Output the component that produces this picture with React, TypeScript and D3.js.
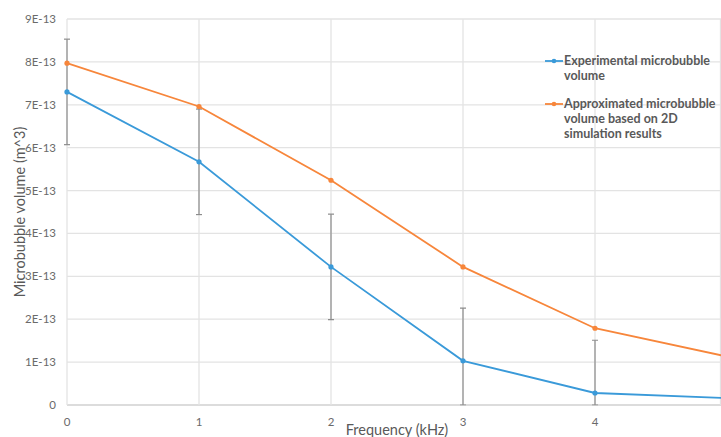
import * as d3 from "d3";

// frequency (kHz)
const frequency = [0, 1, 2, 3, 4, 5];
// volumes in units of 1E-13 m^3
const experimental = [7.3, 5.67, 3.22, 1.03, 0.28, 0.16];
const experimentalErr = [1.23, 1.23, 1.23, 1.23, 1.23, 1.23];
const approximated = [7.97, 6.96, 5.24, 3.22, 1.79, 1.13];
const yTicks = [0, 1, 2, 3, 4, 5, 6, 7, 8, 9];
const xTicks = [0, 1, 2, 3, 4];

const W = 721;
const H = 437;
const margin = { left: 67, top: 19, bottom: 32 };
const BLUE = "#3a9ad9";
const ORANGE = "#f7863b";
const FONT = "Lato, 'Open Sans', sans-serif";

const yLabel = (v: number) => (v === 0 ? "0" : `${v}E-13`);

export default function App() {
  const x = d3.scaleLinear().domain([0, 5]).range([margin.left, margin.left + 5 * 132]);
  const y = d3.scaleLinear().domain([0, 9]).range([H - margin.bottom, margin.top]);

  const line = d3
    .line<number>()
    .x((_, i) => x(frequency[i]))
    .y((d) => y(d));

  const legend = [
    { color: BLUE, lines: ["Experimental microbubble", "volume"], y: 61 },
    { color: ORANGE, lines: ["Approximated microbubble", "volume based on 2D", "simulation results"], y: 104 },
  ];

  return (
    <svg
      width={W}
      height={H}
      style={{ position: "absolute", left: 0, top: 0, background: "#fff" }}
      fontFamily={FONT}
    >
      <defs>
        <clipPath id="plot">
          <rect x={0} y={0} width={W} height={y(0) + 0.5} />
        </clipPath>
      </defs>

      {/* horizontal grid */}
      {yTicks.map((t) => (
        <line key={"h" + t} x1={margin.left} x2={W} y1={y(t)} y2={y(t)} stroke={t === 0 ? "#d0d0d0" : "#e3e3e3"} strokeWidth={1.3} />
      ))}
      {/* vertical grid */}
      {xTicks.map((t) => (
        <line key={"v" + t} x1={x(t)} x2={x(t)} y1={y(9)} y2={y(0)} stroke="#e3e3e3" strokeWidth={1.3} />
      ))}
      <line x1={720.5} x2={720.5} y1={y(9)} y2={y(0)} stroke="#e3e3e3" strokeWidth={1.3} />

      {/* y tick labels */}
      {yTicks.map((t) => (
        <text key={"yl" + t} x={56} y={y(t)} dy="0.35em" textAnchor="end" fontSize={11.5} fill="#6a6a6a">
          {yLabel(t)}
        </text>
      ))}
      {/* x tick labels */}
      {xTicks.map((t) => (
        <text key={"xl" + t} x={x(t)} y={422} dy="0.35em" textAnchor="middle" fontSize={11.5} fill="#6a6a6a">
          {t}
        </text>
      ))}

      {/* axis titles */}
      <text x={397} y={430} dy="0.35em" textAnchor="middle" fontSize={14.5} fill="#595959">
        Frequency (kHz)
      </text>
      <text
        transform={`translate(20, ${y(4.5)}) rotate(-90)`}
        dy="0.35em"
        textAnchor="middle"
        fontSize={14.5}
        fill="#595959"
      >
        Microbubble volume (m^3)
      </text>

      <g clipPath="url(#plot)">
        {/* error bars */}
        {experimental.map((v, i) => {
          const cx = x(frequency[i]);
          const top = y(v + experimentalErr[i]);
          const bot = y(Math.max(0, v - experimentalErr[i]));
          return (
            <g key={"e" + i} stroke="#8c8c8c" strokeWidth={1.2}>
              <line x1={cx} x2={cx} y1={top} y2={bot} />
              <line x1={cx - 3} x2={cx + 3} y1={top} y2={top} />
              <line x1={cx - 3} x2={cx + 3} y1={bot} y2={bot} />
            </g>
          );
        })}

        <path d={line(experimental) ?? ""} fill="none" stroke={BLUE} strokeWidth={1.8} />
        <path d={line(approximated) ?? ""} fill="none" stroke={ORANGE} strokeWidth={1.8} />
        {experimental.map((v, i) => (
          <circle key={"b" + i} cx={x(frequency[i])} cy={y(v)} r={2.6} fill={BLUE} />
        ))}
        {approximated.map((v, i) => (
          <circle key={"o" + i} cx={x(frequency[i])} cy={y(v)} r={2.6} fill={ORANGE} />
        ))}
      </g>

      {/* legend */}
      {legend.map((l) => (
        <g key={l.color}>
          <line x1={545} x2={563} y1={l.y} y2={l.y} stroke={l.color} strokeWidth={1.8} />
          <circle cx={554} cy={l.y} r={2.3} fill={l.color} />
          {l.lines.map((s, k) => (
            <text key={k} x={564} y={l.y + k * 15} dy="0.35em" fontSize={12.5} fontWeight="bold" fill="#595959">
              {s}
            </text>
          ))}
        </g>
      ))}
    </svg>
  );
}
